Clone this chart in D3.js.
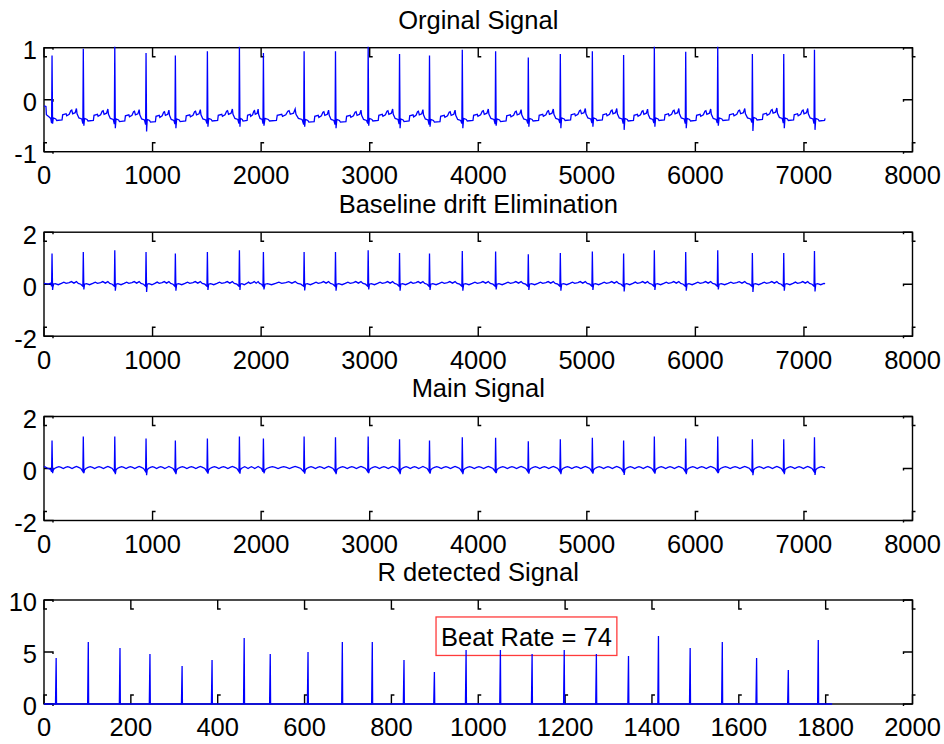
<!DOCTYPE html>
<html>
<head>
<meta charset="utf-8">
<script src="https://cdn.jsdelivr.net/npm/d3@7"></script>
<style>
  html, body { margin: 0; padding: 0; background: #fff; }
  svg { display: block; }
  text { font-family: "Liberation Sans", Arial, sans-serif; fill: #000; }
</style>
</head>
<body>
<svg id="chart" width="944" height="744"></svg>
<script>
// ---- ECG record: R-peak sample positions (7200 samples, 360 Hz) ----
const rPeaks = [74, 362, 652, 940, 1210, 1505, 1800, 2021, 2396, 2685, 2986, 3275, 3551,
                3853, 4160, 4461, 4756, 5051, 5339, 5622, 5911, 6206, 6525, 6814, 7097];
const signalLength = 7195;

// Original signal: R amplitude, S trough and isoelectric level per beat
const rawAmp   = [0.85, 0.98, 1.05, 0.90, 0.85, 0.93, 1.03, 0.90, 0.93, 0.93, 1.05, 0.88, 0.85,
                  0.96, 0.93, 0.81, 0.88, 0.93, 0.86, 1.05, 0.92, 1.05, 0.88, 0.88, 0.96];
const rawDip   = [-0.46, -0.50, -0.55, -0.61, -0.55, -0.52, -0.52, -0.50, -0.52, -0.55, -0.50, -0.55, -0.52,
                  -0.55, -0.50, -0.52, -0.55, -0.52, -0.58, -0.52, -0.55, -0.50, -0.60, -0.55, -0.58];
const rawLevel = [-0.37, -0.38, -0.39, -0.40, -0.39, -0.38, -0.38, -0.38, -0.40, -0.40, -0.38, -0.39, -0.40,
                  -0.38, -0.39, -0.38, -0.37, -0.37, -0.38, -0.37, -0.38, -0.37, -0.36, -0.37, -0.38];
// shape between beats: [fraction of RR interval, offset from level]
const rawWave  = [[0.04, 0.02], [0.12, 0.0], [0.15, -0.03], [0.32, -0.02], [0.34, 0.08], [0.45, 0.10],
                  [0.47, 0.06], [0.55, 0.09], [0.60, 0.16], [0.63, 0.17], [0.66, 0.10], [0.74, 0.12],
                  [0.78, 0.20], [0.80, 0.10], [0.86, 0.02], [0.95, 0.0]];
const rawHead  = [[0, -0.12], [18, -0.13], [22, -0.29], [45, -0.33], [62, -0.36]];

// Baseline drift removed
const cleanAmp = [1.18, 1.24, 1.31, 1.24, 1.18, 1.24, 1.31, 1.24, 1.24, 1.24, 1.31, 1.20, 1.18,
                  1.28, 1.26, 1.15, 1.20, 1.26, 1.18, 1.31, 1.24, 1.31, 1.20, 1.20, 1.28];
const cleanDip = [-0.22, -0.20, -0.25, -0.30, -0.25, -0.22, -0.22, -0.20, -0.24, -0.25, -0.20, -0.25, -0.22,
                  -0.25, -0.20, -0.22, -0.25, -0.22, -0.28, -0.22, -0.25, -0.20, -0.30, -0.25, -0.28];
const cleanWave = [[0.04, 0.0], [0.10, 0.02], [0.20, -0.02], [0.30, 0.03], [0.38, 0.08], [0.45, 0.03],
                   [0.55, 0.06], [0.62, 0.10], [0.70, 0.04], [0.78, 0.10], [0.84, 0.03], [0.92, 0.0]];
const cleanHead = [[0, 0.03], [40, 0.0], [62, 0.04]];

// Filtered (main) signal
const mainAmp  = [1.08, 1.23, 1.23, 1.15, 1.08, 1.15, 1.23, 1.15, 1.23, 1.20, 1.23, 1.12, 1.08,
                  1.20, 1.18, 1.05, 1.12, 1.18, 1.08, 1.23, 1.15, 1.23, 1.12, 1.12, 1.20];
const mainDip  = [-0.18, -0.18, -0.22, -0.26, -0.22, -0.20, -0.20, -0.18, -0.20, -0.22, -0.18, -0.22, -0.20,
                  -0.22, -0.18, -0.20, -0.22, -0.20, -0.25, -0.20, -0.22, -0.18, -0.26, -0.22, -0.25];
const mainWave = [[0.04, -0.05], [0.08, 0.0], [0.15, 0.04], [0.22, 0.07], [0.29, 0.04], [0.36, 0.0],
                  [0.43, 0.04], [0.50, 0.07], [0.57, 0.04], [0.64, 0.0], [0.71, 0.04], [0.78, 0.08],
                  [0.85, 0.04], [0.92, 0.0]];
const mainHead = [[0, 0.08], [30, 0.02], [60, -0.03]];

// R detection output (decimated by 4)
const rDetectPos = [28, 102, 175, 244, 318, 387, 461, 521, 608, 687, 756, 829, 899,
                    972, 1051, 1124, 1198, 1272, 1346, 1415, 1488, 1562, 1641, 1714, 1783];
const rDetectAmp = [4.42, 5.96, 5.38, 4.81, 3.65, 4.23, 6.35, 4.81, 5.00, 5.96, 5.96, 4.23, 3.08,
                    5.19, 5.19, 4.81, 5.19, 4.81, 4.62, 6.54, 5.38, 5.96, 4.42, 3.27, 6.15];
const rDetectLength = 1815;
const beatRate = 74;

// ---- axis tick values ----
const ecgXTicks = [0, 1000, 2000, 3000, 4000, 5000, 6000, 7000, 8000];
const detXTicks = [0, 200, 400, 600, 800, 1000, 1200, 1400, 1600, 1800, 2000];
const rawYTicks = [-1, 0, 1];
const ecgYTicks = [-2, 0, 2];
const detYTicks = [0, 5, 10];

const titles = ["Orginal Signal", "Baseline drift Elimination", "Main Signal", "R detected Signal"];

// ---- series builders ----
function buildEcg(amps, dips, levels, qOffset, wave, head) {
  const pts = head.slice();
  rPeaks.forEach((r, i) => {
    const base = levels[i];
    const next = i < rPeaks.length - 1 ? rPeaks[i + 1] : r + 290;
    pts.push([r - 4, base + qOffset]);
    pts.push([r, amps[i]]);
    pts.push([r + 5, dips[i]]);
    wave.forEach(([ph, v]) => {
      const x = r + ph * (next - r);
      if (x < signalLength) pts.push([x, base + v]);
    });
  });
  pts.push([signalLength, levels[levels.length - 1] + 0.02]);
  return pts;
}

function buildDetect() {
  const pts = [[0, 0]];
  rDetectPos.forEach((p, i) => {
    pts.push([p - 1.5, 0], [p, rDetectAmp[i]], [p + 0.8, 0]);
  });
  pts.push([rDetectLength, 0]);
  return pts;
}

const zeroLevels = rPeaks.map(() => 0);
const series = [
  buildEcg(rawAmp, rawDip, rawLevel, -0.08, rawWave, rawHead),
  buildEcg(cleanAmp, cleanDip, zeroLevels, -0.08, cleanWave, cleanHead),
  buildEcg(mainAmp, mainDip, zeroLevels, -0.12, mainWave, mainHead),
  buildDetect()
];

// ---- layout ----
const svg = d3.select("#chart");
const left = 44, right = 912.5, plotH = 104;
const tops = [47.7, 232.2, 416.5, 600];
const xDomains = [[0, 8000], [0, 8000], [0, 8000], [0, 2000]];
const yDomains = [[-1, 1], [-2, 2], [-2, 2], [0, 10]];
const xTickSets = [ecgXTicks, ecgXTicks, ecgXTicks, detXTicks];
const yTickSets = [rawYTicks, ecgYTicks, ecgYTicks, detYTicks];
const fontSize = 25.5;
const tickLen = 9, stub = 3;

series.forEach((data, k) => {
  const top = tops[k], bottom = top + plotH;
  const x = d3.scaleLinear().domain(xDomains[k]).range([left, right]);
  const y = d3.scaleLinear().domain(yDomains[k]).range([bottom, top]);
  const g = svg.append("g");

  // clip region for the trace
  const clipId = "clip" + k;
  svg.append("clipPath").attr("id", clipId)
    .append("rect").attr("x", left - 1).attr("y", top - 1)
    .attr("width", right - left + 2).attr("height", plotH + 2);

  // axes box
  g.append("rect").attr("x", left).attr("y", top)
    .attr("width", right - left).attr("height", plotH)
    .attr("fill", "none").attr("stroke", "#000").attr("stroke-width", 1.4);

  // ticks on all four sides
  const tickPath = [];
  xTickSets[k].forEach(v => {
    const px = x(v);
    tickPath.push(`M${px},${top}v${tickLen}h${stub}`);
    tickPath.push(`M${px},${bottom}v${-tickLen}h${stub}`);
  });
  yTickSets[k].forEach(v => {
    const py = y(v);
    tickPath.push(`M${left},${py}h${tickLen}v${stub - 1}`);
    tickPath.push(`M${right},${py}h${-tickLen}v${stub - 1}`);
  });
  g.append("path").attr("d", tickPath.join(""))
    .attr("fill", "none").attr("stroke", "#000").attr("stroke-width", 1.4);

  // tick labels
  g.selectAll(".xl").data(xTickSets[k]).join("text")
    .attr("x", d => x(d)).attr("y", bottom + 32.3)
    .attr("text-anchor", "middle").attr("font-size", fontSize)
    .text(d => d);
  g.selectAll(".yl").data(yTickSets[k]).join("text")
    .attr("x", left - 7).attr("y", d => y(d) + 11.3)
    .attr("text-anchor", "end").attr("font-size", fontSize)
    .text(d => d);

  // title
  g.append("text").attr("x", (left + right) / 2).attr("y", top - 19.2)
    .attr("text-anchor", "middle").attr("font-size", fontSize)
    .text(titles[k]);

  // beat-rate annotation on the detection panel
  if (k === 3) {
    const label = g.append("text")
      .attr("x", x(1111)).attr("y", y(5.58))
      .attr("text-anchor", "middle").attr("font-size", fontSize)
      .text("Beat Rate = " + beatRate);
    const bb = label.node().getBBox();
    g.insert("rect", "text")
      .attr("x", bb.x - 5).attr("y", bb.y - 6)
      .attr("width", bb.width + 10).attr("height", bb.height + 10.5)
      .attr("fill", "none").attr("stroke", "#ff3b3b").attr("stroke-width", 1.3);
  }

  // trace
  const line = d3.line().x(d => x(d[0])).y(d => y(d[1]));
  g.append("path").datum(data)
    .attr("clip-path", `url(#${clipId})`)
    .attr("d", line)
    .attr("fill", "none").attr("stroke", "#0000ff")
    .attr("stroke-width", 1.3).attr("stroke-linejoin", "miter");
});
</script>
</body>
</html>
